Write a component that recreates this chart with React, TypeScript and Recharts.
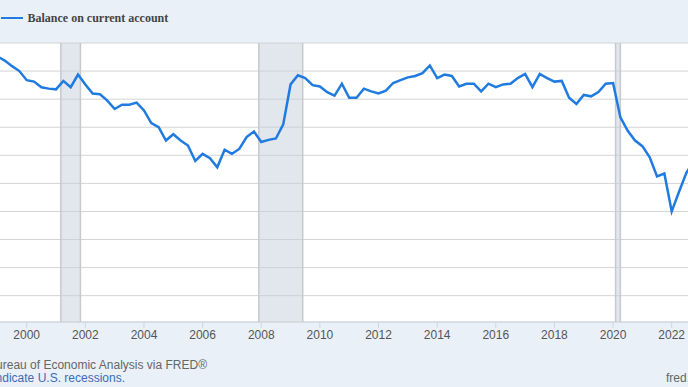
import React from "react";
import { LineChart, Line, XAxis, YAxis, CartesianGrid, ReferenceArea, ReferenceLine } from "recharts";

// quarterly observations, plotted at the start of each quarter
const quarters = [
  "1999Q1", "1999Q2", "1999Q3", "1999Q4",
  "2000Q1", "2000Q2", "2000Q3", "2000Q4",
  "2001Q1", "2001Q2", "2001Q3", "2001Q4",
  "2002Q1", "2002Q2", "2002Q3", "2002Q4",
  "2003Q1", "2003Q2", "2003Q3", "2003Q4",
  "2004Q1", "2004Q2", "2004Q3", "2004Q4",
  "2005Q1", "2005Q2", "2005Q3", "2005Q4",
  "2006Q1", "2006Q2", "2006Q3", "2006Q4",
  "2007Q1", "2007Q2", "2007Q3", "2007Q4",
  "2008Q1", "2008Q2", "2008Q3", "2008Q4",
  "2009Q1", "2009Q2", "2009Q3", "2009Q4",
  "2010Q1", "2010Q2", "2010Q3", "2010Q4",
  "2011Q1", "2011Q2", "2011Q3", "2011Q4",
  "2012Q1", "2012Q2", "2012Q3", "2012Q4",
  "2013Q1", "2013Q2", "2013Q3", "2013Q4",
  "2014Q1", "2014Q2", "2014Q3", "2014Q4",
  "2015Q1", "2015Q2", "2015Q3", "2015Q4",
  "2016Q1", "2016Q2", "2016Q3", "2016Q4",
  "2017Q1", "2017Q2", "2017Q3", "2017Q4",
  "2018Q1", "2018Q2", "2018Q3", "2018Q4",
  "2019Q1", "2019Q2", "2019Q3", "2019Q4",
  "2020Q1", "2020Q2", "2020Q3", "2020Q4",
  "2021Q1", "2021Q2", "2021Q3", "2021Q4",
  "2022Q1", "2022Q2", "2022Q3", "2022Q4",
];

// Balance on current account, billions of dollars
const balance = [
  -59, -65, -73, -80,
  -93, -95, -103, -105,
  -106, -94, -103, -85,
  -99, -112, -113, -122,
  -134, -128, -128, -125,
  -136, -154, -160, -179,
  -170, -179, -186, -208,
  -198, -204, -217, -192,
  -198, -191, -174, -166,
  -181, -178, -176, -156,
  -99, -86, -90, -100,
  -102, -110, -115, -98,
  -118, -118, -105, -109,
  -112, -108, -97, -93,
  -89, -87, -83, -72,
  -90, -85, -87, -102,
  -98, -98, -109, -98,
  -103, -99, -98, -90,
  -84, -103, -84, -90,
  -95, -94, -118, -127,
  -114, -116, -110, -98,
  -97, -146, -165, -179,
  -187, -203, -230, -226,
  -280, -252, -225, -208,
];

// recession periods as decimal years (start, end)
const recessionStarts = [2001.164, 2007.917, 2020.085];
const recessionEnds = [2001.833, 2009.414, 2020.249];

const yearTicks = [2000, 2002, 2004, 2006, 2008, 2010, 2012, 2014, 2016, 2018, 2020, 2022];
const valueTicks = [-40, -80, -120, -160, -200, -240, -280, -320, -360, -400];

const data = quarters.map((q, i) => {
  const year = parseInt(q.slice(0, 4), 10);
  const qn = parseInt(q.slice(5), 10);
  return { t: year + (qn - 1) / 4, v: balance[i] };
});

const BAND = "#e9f0f8";
const LINE = "#1f7be0";
const SANS = "'Liberation Sans', Arial, sans-serif";

export default function App() {
  return (
    <div
      style={{
        position: "absolute",
        left: 0,
        top: 0,
        width: 688,
        height: 387,
        overflow: "hidden",
        background: BAND,
        fontFamily: SANS,
      }}
    >
      <LineChart width={688} height={387} data={data} margin={{ top: 43, right: 0, bottom: 0, left: 0 }}>
        <CartesianGrid vertical={false} stroke="#d4d4d4" fill="#ffffff" />
        <XAxis
          type="number"
          dataKey="t"
          domain={[1999.089, 2022.556]}
          ticks={yearTicks}
          interval={0}
          allowDataOverflow
          height={65}
          tickSize={6}
          tickMargin={2}
          axisLine={{ stroke: "#cfd6df" }}
          tickLine={{ stroke: "#cfd6df" }}
          tick={{ fill: "#555", fontSize: 12, fontFamily: SANS }}
        />
        <YAxis hide type="number" domain={[-437.5, -40]} ticks={valueTicks} allowDataOverflow />
        {recessionStarts.map((s, i) => (
          <ReferenceArea
            key={"ra" + i}
            x1={s}
            x2={recessionEnds[i]}
            fill="#c5d0dc"
            fillOpacity={0.5}
            stroke="none"
          />
        ))}
        {recessionStarts.map((s, i) => (
          <ReferenceLine key={"rs" + i} x={s} stroke="#c6c9cd" strokeWidth={1.5} />
        ))}
        {recessionEnds.map((e, i) => (
          <ReferenceLine key={"re" + i} x={e} stroke="#c6c9cd" strokeWidth={1.5} />
        ))}
        <Line
          type="linear"
          dataKey="v"
          stroke={LINE}
          strokeWidth={2.5}
          dot={false}
          activeDot={false}
          isAnimationActive={false}
        />
      </LineChart>

      {/* legend */}
      <div style={{ position: "absolute", left: 0, top: 9, height: 18, display: "flex", alignItems: "center" }}>
        <div style={{ width: 22, height: 2.5, background: LINE, marginLeft: 1 }} />
        <span
          style={{
            marginLeft: 4.5,
            fontFamily: "'Liberation Serif', 'Times New Roman', serif",
            fontWeight: "bold",
            fontSize: 12,
            color: "#444",
            whiteSpace: "nowrap",
          }}
        >
          Balance on current account
        </span>
      </div>

      {/* footer notes */}
      <div
        style={{
          position: "absolute",
          right: 481,
          top: 358,
          whiteSpace: "nowrap",
          fontSize: 12,
          lineHeight: "14px",
          color: "#666",
        }}
      >
        Source: U.S. Bureau of Economic Analysis via FRED®
      </div>
      <div
        style={{
          position: "absolute",
          right: 563,
          top: 371,
          whiteSpace: "nowrap",
          fontSize: 12,
          lineHeight: "14px",
          color: "#3b6db3",
        }}
      >
        Shaded areas indicate U.S. recessions.
      </div>
      <div
        style={{
          position: "absolute",
          left: 666,
          top: 371,
          whiteSpace: "nowrap",
          fontSize: 12,
          lineHeight: "14px",
          color: "#666",
        }}
      >
        fred.stlouisfed.org
      </div>
    </div>
  );
}
